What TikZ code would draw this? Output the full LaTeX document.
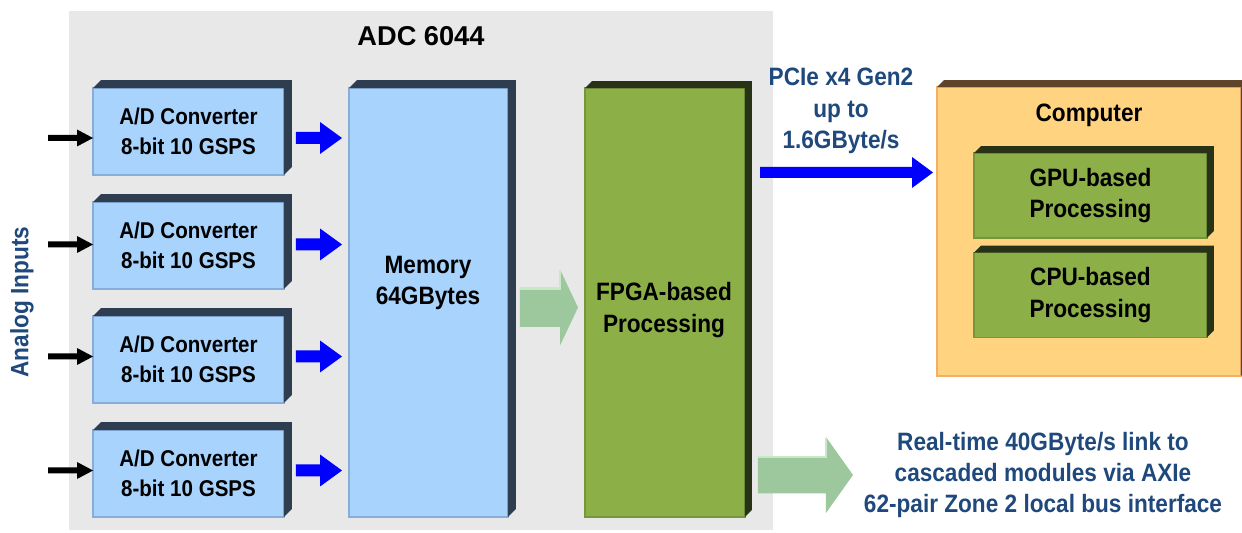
\documentclass[tikz,border=0pt]{standalone}
\usepackage{fontspec}
\setmainfont{Liberation Sans}[FakeStretch=0.9]
\newfontfamily\plainsans{Liberation Sans}
\usetikzlibrary{calc}
\definecolor{bggray}{HTML}{E8E8E8}
\definecolor{adfill}{HTML}{A7D3FD}
\definecolor{adborder}{HTML}{87AEDB}
\definecolor{addark}{HTML}{2F3D50}
\definecolor{gfill}{HTML}{8CAF48}
\definecolor{gborder}{HTML}{76963A}
\definecolor{gdark}{HTML}{283217}
\definecolor{cfill}{HTML}{FFD37F}
\definecolor{cborder}{HTML}{F5AE68}
\definecolor{cdark}{HTML}{5E452A}
\definecolor{agreen}{HTML}{9DC79D}
\definecolor{agreenhi}{HTML}{C8E8C8}
\definecolor{txtblue}{HTML}{1F497D}
\definecolor{pureblue}{HTML}{0000FF}
\newcommand{\bevelbox}[3]{\fill[#2] (#1.north west) -- ++(#3,-#3) -- ([shift={(#3,-#3)}]#1.north east) -- ([shift={(#3,-#3)}]#1.south east) -- (#1.south east) -- (#1.north east) -- cycle;}
\newcommand{\blockarrow}[6]{\fill[#6] ($(#1)+(0,-#3)$) -- ($(#2)+(-#4,-#3)$) -- ($(#2)+(-#4,-#5)$) -- (#2) -- ($(#2)+(-#4,#5)$) -- ($(#2)+(-#4,#3)$) -- ($(#1)+(0,#3)$) -- cycle;}
\newcommand{\fbig}{\fontsize{14.3}{17.9}\selectfont\bfseries}
\newcommand{\fad}{\fontsize{13}{17}\selectfont\bfseries}
\newcommand{\ftitle}{\plainsans\fontsize{15.5}{18}\selectfont\bfseries}
\begin{document}
\begin{tikzpicture}[x=0.02cm,y=-0.02cm,
  boxbase/.style={rectangle,inner sep=0pt,outer sep=0pt,line width=1.1pt},
  adbox/.style={boxbase,fill=adfill,draw=adborder,minimum width=3.82cm,minimum height=1.74cm,align=center,font=\fad},
  membox/.style={boxbase,fill=adfill,draw=adborder,minimum width=3.18cm,minimum height=8.58cm},
  fpgabox/.style={boxbase,fill=gfill,draw=gborder,minimum width=3.2cm,minimum height=8.58cm},
  compbox/.style={boxbase,fill=cfill,draw=cborder,minimum width=6.08cm,minimum height=5.78cm},
  procbox/.style={boxbase,fill=gfill,draw=gborder,minimum width=4.66cm,minimum height=1.7cm,align=center,font=\fbig},
  intext/.style={align=center,font=\fbig,inner sep=0pt},
  lbl/.style={align=center,font=\fbig,text=txtblue,inner sep=0pt},
  blackarr/.style={fill=black},
  bluearr/.style={fill=pureblue},
  greenarr/.style={fill=agreen},
  greenhi/.style={draw=agreenhi,line width=1.2pt}
]
\useasboundingbox (0,0) rectangle (1242,533);
\fill[white] (0,0) rectangle (1242,533);

% container
\node[rectangle,fill=bggray,inner sep=0pt,outer sep=0pt,minimum width=14.08cm,minimum height=10.38cm] (adc) at (421,270.5) {};
\node[font=\ftitle,inner sep=0pt] (adct) at (421,36) {ADC 6044};

% A/D converters
\node[adbox] (ad1) at (188.5,131.5) {A/D Converter\\8-bit 10 GSPS};
\node[adbox] (ad2) at (188.5,245.5) {A/D Converter\\8-bit 10 GSPS};
\node[adbox] (ad3) at (188.5,359.5) {A/D Converter\\8-bit 10 GSPS};
\node[adbox] (ad4) at (188.5,473.5) {A/D Converter\\8-bit 10 GSPS};
\foreach \n in {ad1,ad2,ad3,ad4} {\bevelbox{\n}{addark}{8}}

% memory
\node[membox] (mem) at (428.5,302.5) {};
\bevelbox{mem}{addark}{8}
\node[intext] (memt) at (428,283) {Memory\\64GBytes};

% FPGA
\node[fpgabox] (fpga) at (665,302.5) {};
\bevelbox{fpga}{gdark}{7}
\node[intext] (fpgat) at (664,310) {FPGA-based\\Processing};

% computer
\node[compbox] (comp) at (1089,231.5) {};
\bevelbox{comp}{cdark}{7}
\node[intext] (compt) at (1089,115) {Computer};
\node[procbox] (gpu) at (1090.5,195.5) {GPU-based\\Processing};
\bevelbox{gpu}{gdark}{7}
\node[procbox] (cpu) at (1090.5,295) {CPU-based\\Processing};
\bevelbox{cpu}{gdark}{7}

% labels
\node[lbl,rotate=90] (ai) at (22,302) {Analog Inputs};
\node[lbl] (pcie) at (841,111) {PCIe x4 Gen2\\up to\\1.6GByte/s};
\node[lbl] (rt) at (1043,475) {Real-time 40GByte/s link to\\cascaded modules via AXIe\\62-pair Zone 2 local bus interface};

% input and converter arrows
\foreach \n/\o in {ad1/6.5,ad2/-1,ad3/-3,ad4/-3} {
  \coordinate (\n ie) at ($(\n.west)+(0,\o)$);
  \coordinate (\n is) at ($(\n ie)+(-45,0)$);
  \blockarrow{\n is}{\n ie}{3}{16}{8.5}{blackarr}
  \coordinate (\n bs) at ($(\n.east)+(12,\o)$);
  \coordinate (\n be) at ($(\n bs -| mem.west)+(-7,0)$);
  \blockarrow{\n bs}{\n be}{6}{22}{16}{bluearr}
}

% memory to FPGA
\coordinate (mfs) at ($(mem.east)+(12,5)$);
\coordinate (mfe) at ($(fpga.west)+(-7,5)$);
\blockarrow{mfs}{mfe}{19.5}{18}{38}{greenarr}
\draw[greenhi] ($(mfs)+(0,-19)$) -- ($(mfe)+(-18,-19)$) -- ($(mfe)+(-18,-37)$);

% PCIe link
\coordinate (pcs) at (760,172.5);
\coordinate (pce) at ($(pcs -| comp.west)+(-4,0)$);
\blockarrow{pcs}{pce}{5.5}{21}{15.5}{bluearr}

% cascade link
\coordinate (cs) at ($(fpga.east)+(13,172.5)$);
\coordinate (ce) at ($(cs)+(95,0)$);
\blockarrow{cs}{ce}{18.5}{27}{38}{greenarr}
\draw[greenhi] ($(cs)+(0,-18)$) -- ($(ce)+(-27,-18)$) -- ($(ce)+(-27,-37)$);
\end{tikzpicture}
\end{document}
